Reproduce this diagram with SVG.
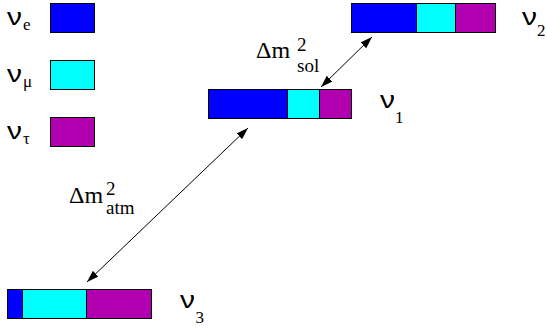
<svg xmlns="http://www.w3.org/2000/svg" width="547" height="329" viewBox="0 0 547 329">
<defs>
<style>
.b{fill:#0000ff;stroke:#000;stroke-width:1}
.c{fill:#00ffff;stroke:#000;stroke-width:1}
.p{fill:#b000b0;stroke:#000;stroke-width:1}
text{fill:#000}
.conn{stroke:#000;stroke-width:1;fill:none;marker-start:url(#ah);marker-end:url(#ah)}
</style>
<marker id="ah" viewBox="0 0 12 8" refX="12" refY="4" markerWidth="12" markerHeight="8" markerUnits="userSpaceOnUse" orient="auto-start-reverse">
<path d="M0,0 L12,4 L0,8 Z" fill="#000"/>
</marker>
</defs>
<rect width="547" height="329" fill="#fff"/>
<g id="legend-e">
<text x="7" y="24.5" font-family="Liberation Sans, sans-serif" font-size="23" textLength="15" lengthAdjust="spacingAndGlyphs">ν</text>
<text x="23" y="29.5" font-family="Liberation Serif, serif" font-size="17">e</text>
<rect class="b" x="50.5" y="3.5" width="44" height="29"/>
</g>
<g id="legend-mu">
<text x="7" y="81.5" font-family="Liberation Sans, sans-serif" font-size="23" textLength="15" lengthAdjust="spacingAndGlyphs">ν</text>
<text x="23" y="86.5" font-family="Liberation Serif, serif" font-size="17">μ</text>
<rect class="c" x="50.5" y="60.5" width="44" height="29"/>
</g>
<g id="legend-tau">
<text x="7" y="138.5" font-family="Liberation Sans, sans-serif" font-size="23" textLength="15" lengthAdjust="spacingAndGlyphs">ν</text>
<text x="23" y="143.5" font-family="Liberation Serif, serif" font-size="17">τ</text>
<rect class="p" x="50.5" y="117.5" width="44" height="29"/>
</g>
<g id="nu2">
<rect class="b" x="351.5" y="3.5" width="65" height="29"/>
<rect class="c" x="416.5" y="3.5" width="39" height="29"/>
<rect class="p" x="455.5" y="3.5" width="40" height="29"/>
<text x="522" y="25" font-family="Liberation Sans, sans-serif" font-size="23" textLength="15" lengthAdjust="spacingAndGlyphs">ν</text>
<text x="537" y="35.5" font-family="Liberation Serif, serif" font-size="17">2</text>
</g>
<g id="nu1">
<rect class="b" x="208.5" y="89.5" width="79" height="29"/>
<rect class="c" x="287.5" y="89.5" width="32" height="29"/>
<rect class="p" x="319.5" y="89.5" width="32" height="29"/>
<text x="380" y="108" font-family="Liberation Sans, sans-serif" font-size="23" textLength="15" lengthAdjust="spacingAndGlyphs">ν</text>
<text x="395" y="122.5" font-family="Liberation Serif, serif" font-size="17">1</text>
</g>
<g id="nu3">
<rect class="b" x="7.5" y="289.5" width="15" height="29"/>
<rect class="c" x="22.5" y="289.5" width="64" height="29"/>
<rect class="p" x="86.5" y="289.5" width="65" height="29"/>
<text x="180" y="308" font-family="Liberation Sans, sans-serif" font-size="23" textLength="15" lengthAdjust="spacingAndGlyphs">ν</text>
<text x="195.5" y="322.5" font-family="Liberation Serif, serif" font-size="17">3</text>
</g>
<g id="connectors">
<line class="conn" x1="321" y1="87" x2="372" y2="37"/>
<line class="conn" x1="87" y1="282" x2="248" y2="128"/>
</g>
<g id="label-sol">
<text x="256" y="58" font-family="Liberation Serif, serif" font-size="24">Δm</text>
<text x="297" y="51" font-family="Liberation Serif, serif" font-size="19">2</text>
<text x="297" y="71.5" font-family="Liberation Serif, serif" font-size="19">sol</text>
</g>
<g id="label-atm">
<text x="69" y="203" font-family="Liberation Serif, serif" font-size="24">Δm</text>
<text x="106" y="195" font-family="Liberation Serif, serif" font-size="19">2</text>
<text x="106" y="214" font-family="Liberation Serif, serif" font-size="19">atm</text>
</g>
</svg>
